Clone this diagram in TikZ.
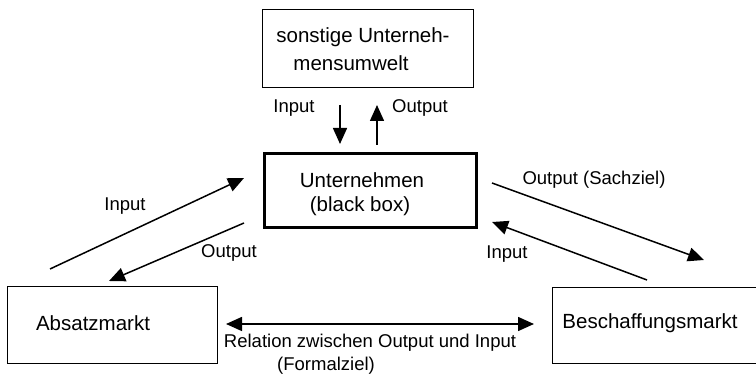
\documentclass[tikz,border=0pt]{standalone}
\usepackage{fontspec}
\setmainfont{Liberation Sans}
\usetikzlibrary{arrows.meta}
\tikzset{
  boxthin/.style={draw, line width=1.4pt, inner sep=0pt, anchor=north west},
  boxthick/.style={draw, line width=2.8pt, inner sep=0pt, anchor=north west},
  boxtext/.style={inner sep=0pt, font=\fontsize{20.5}{24.5}\selectfont, align=center},
  lbl/.style={inner sep=0pt, font=\fontsize{18.5}{22}\selectfont},
  tip/.style={Triangle[length=16pt,width=14pt]},
  flow/.style={line width=1.5pt, -{Triangle[length=16pt,width=14pt]}},
  both/.style={line width=1.5pt, {Triangle[length=16pt,width=14pt]}-{Triangle[length=16pt,width=14pt]}}
}
\begin{document}
\begin{tikzpicture}[x=1pt,y=-1pt]
\useasboundingbox (0,0) rectangle (756,374);
\begin{scope}
\clip (0,0) rectangle (756,374);
% boxes
\node[boxthin, minimum width=211pt, minimum height=78pt] (umwelt) at (262,9) {};
\node[boxthick, minimum width=212pt, minimum height=74pt] (firma) at (263,152) {};
\node[boxthin, minimum width=210pt, minimum height=77pt] (absatz) at (7,286) {};
\node[boxthin, minimum width=220pt, minimum height=76pt] (beschaffung) at (552,287) {};
\end{scope}
% box texts
\node[boxtext] (t1) at (363,37) {sonstige Unterneh-};
\node[boxtext] (t2) at (351,63) {mensumwelt};
\node[boxtext] (t3) at (362,180) {Unternehmen};
\node[boxtext] (t4) at (360,206) {(black box)};
\node[boxtext] (t5) at (93,323) {Absatzmarkt};
\node[boxtext] (t6) at (650,323) {Beschaffungsmarkt};
% arrow end points
\coordinate (u1) at (340,105); \coordinate (u2) at (340,144);
\coordinate (v1) at (377,145); \coordinate (v2) at (377,105);
\coordinate (a1) at (50,269);  \coordinate (a2) at (244,178);
\coordinate (b1) at (244,223); \coordinate (b2) at (109,281);
\coordinate (c1) at (492,183); \coordinate (c2) at (704,260);
\coordinate (d1) at (647,280); \coordinate (d2) at (492,222);
\coordinate (e1) at (226,324); \coordinate (e2) at (534,324);
% connectors
\draw[flow] (u1) -- (u2);
\draw[flow] (v1) -- (v2);
\draw[flow] (a1) -- (a2);
\draw[flow] (b1) -- (b2);
\draw[flow] (c1) -- (c2);
\draw[flow] (d1) -- (d2);
\draw[both] (e1) -- (e2);
% labels
\node[lbl] (l1) at (294,108) {Input};
\node[lbl] (l2) at (420,108) {Output};
\node[lbl] (l3) at (125,206) {Input};
\node[lbl] (l4) at (229,253) {Output};
\node[lbl] (l5) at (594,180) {Output (Sachziel)};
\node[lbl] (l6) at (507,254) {Input};
\node[lbl] (l7) at (370,343) {Relation zwischen Output und Input};
\node[lbl] (l8) at (326,366) {(Formalziel)};
\end{tikzpicture}
\end{document}
